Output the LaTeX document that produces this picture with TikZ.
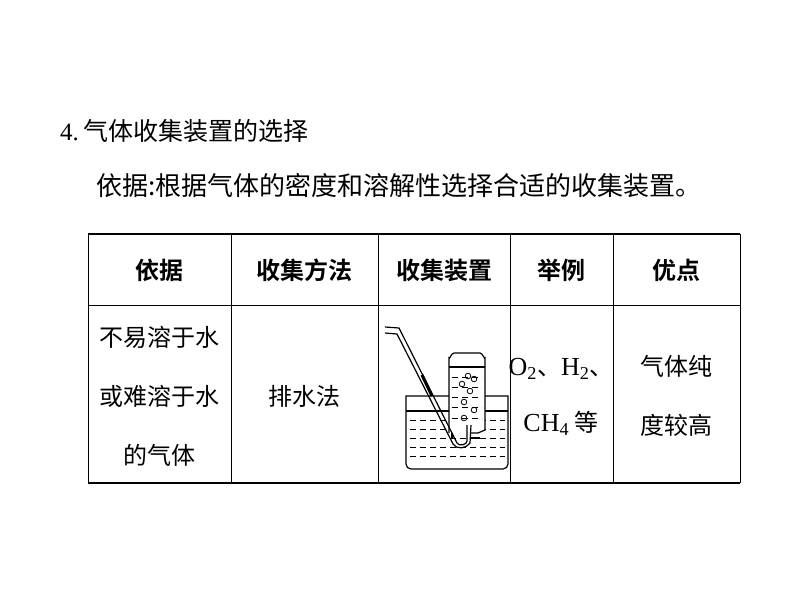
\documentclass[tikz,border=0pt]{standalone}
\usepackage{fontspec}
\setmainfont{Liberation Serif}
\newfontfamily\cjk{Noto Sans CJK SC}
\newfontfamily\cjkb{Noto Sans CJK SC Bold}
\begin{document}
\begin{tikzpicture}[x=1pt,y=-1pt,
 txt/.style={font=\cjk\fontsize{24}{59}\selectfont,align=center,inner sep=0},
 hdr/.style={font=\cjkb\fontsize{24}{28}\selectfont,inner sep=0},
 dashw/.style={line width=1pt,dash pattern=on 6pt off 4pt}]
\useasboundingbox (0,0) rectangle (794,596);
\node[anchor=west,inner sep=0,font=\cjk\fontsize{25}{29}\selectfont] (t1) at (60,131) {{\fontspec{Liberation Serif}4.}\,气体收集装置的选择};
\node[anchor=west,inner sep=0,font=\cjk\fontsize{26}{30}\selectfont] (t2) at (96,186) {依据:根据气体的密度和溶解性选择合适的收集装置。};
% table
\draw[line width=1.6pt] (88,234) -- (740,234);
\draw[line width=1.6pt] (88,483) -- (740,483);
\draw[line width=0.8pt] (88,305) -- (740,305);
\foreach \x in {88,231,378,510,613,740} \draw[line width=0.8pt] (\x,234) -- (\x,483);
\node[hdr] (h1) at (159,270) {依据};
\node[hdr] (h2) at (304,270) {收集方法};
\node[hdr] (h3) at (444,270) {收集装置};
\node[hdr] (h4) at (561,270) {举例};
\node[hdr] (h5) at (676,270) {优点};
\node[txt] (c1) at (159,396) {不易溶于水\\或难溶于水\\的气体};
\node[txt] (c2) at (304,396) {排水法};
\node[txt,font=\cjk\fontsize{24}{56}\selectfont] (c4) at (561,397) {{\fontspec{Liberation Serif}\fontsize{26}{30}\selectfont O\textsubscript{2}}、{\fontspec{Liberation Serif}\fontsize{26}{30}\selectfont H\textsubscript{2}}、\\{\fontspec{Liberation Serif}\fontsize{26}{30}\selectfont CH\textsubscript{4}} 等};
\node[txt] (c5) at (676,396) {气体纯\\度较高};
% apparatus
\begin{scope}[line width=1.2pt]
\fill[white] (406,396) rectangle (508,469);
\foreach \y in {420,429,438,447,456} \draw[dashw] (410,\y) -- (505,\y);
\draw (406,396) -- (406,464) to[out=-90,in=180] (411,469) -- (503,469) to[out=0,in=-90] (508,464) -- (508,396) -- cycle;
\draw (406,411) -- (508,411);
% bottle
\fill[white] (449,360) rectangle (485,430);
\foreach \y in {377,387,397,407,418} \draw[dashw] (452,\y) -- (482,\y);
\draw (449,433) -- (449,358) to[out=-90,in=180] (454,353) -- (480,353) to[out=0,in=-90] (485,358) -- (485,430) -- (478,433) -- (470,433);
\draw (449,367) -- (485,367);
\draw (452,433) -- (452,438) (470,438) -- (480,438);
\foreach \p in {(462,384),(474,379),(470,391),(464,402),(474,410),(464,418),(468,376)} \draw[line width=0.8pt] \p circle (2.8);
% tube
\draw (385,327) -- (399,328) -- (457,443) to[out=-60,in=-90] (467,441) -- (467,425);
\draw (385,333) -- (397,334) -- (453,444) to[out=-60,in=-120] (470,443) -- (471,425);
\draw[line width=3pt] (422,375) -- (432,396);
\end{scope}
\end{tikzpicture}
\end{document}
